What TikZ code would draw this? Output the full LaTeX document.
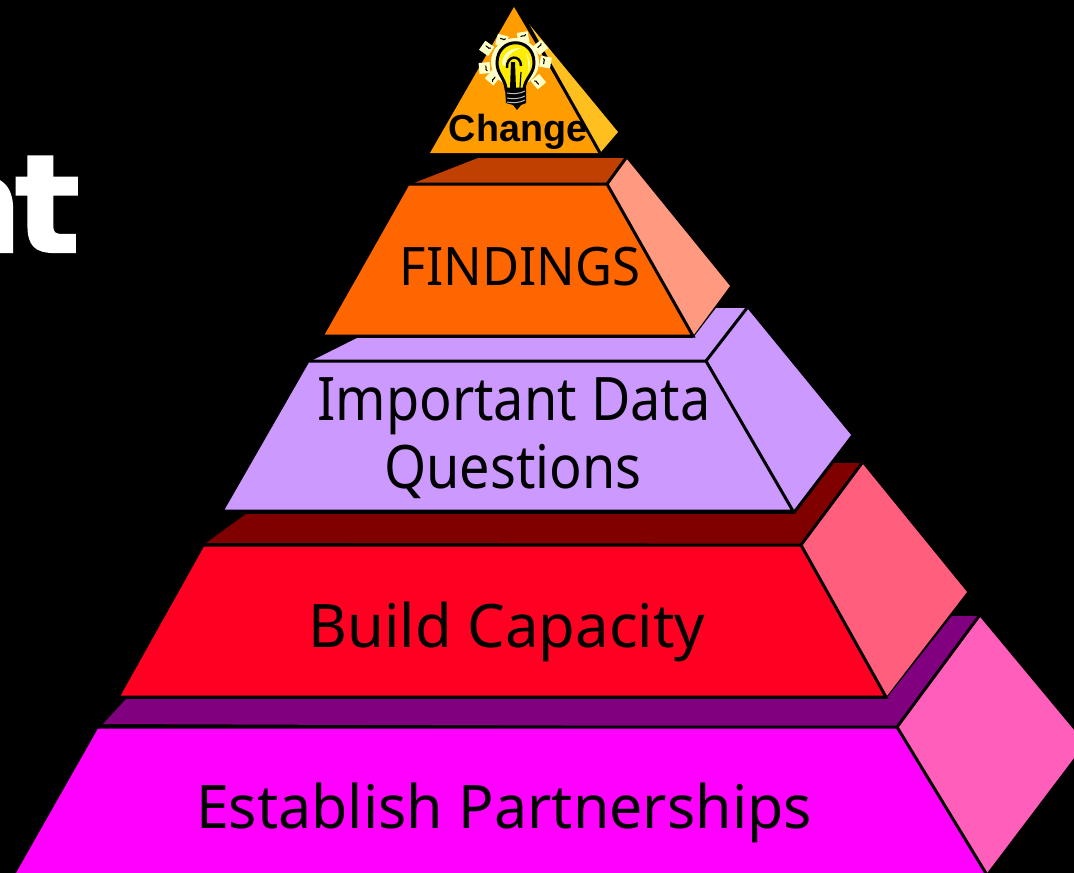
\documentclass[tikz,border=0pt]{standalone}
\usepackage{fontspec}
\setmainfont{Noto Sans}
\newfontfamily\arialb{Liberation Sans}
\newfontfamily\heavy{DejaVu Sans Bold}[FakeBold=1.6]
\begin{document}
\begin{tikzpicture}[x=1pt,y=-1pt,
  face/.style={draw=black,line width=3pt,line join=miter},
  edge/.style={draw=black,line width=3pt},
  lab/.style={anchor=base,inner sep=0pt,font=\fontsize{60}{60}\selectfont,text=black,transform shape},
  tab/.style={fill=bulbcream,draw=none},
  tick/.style={draw=black,line width=1.1pt,line cap=round}
]
\definecolor{bulbcream}{HTML}{FFFFC8}
\definecolor{pkside}{HTML}{FF5FBB}
\definecolor{pktop}{HTML}{800080}
\definecolor{pkfront}{HTML}{FF00FF}
\definecolor{rdside}{HTML}{FF5F7C}
\definecolor{rdtop}{HTML}{800000}
\definecolor{rdfront}{HTML}{FF0022}
\definecolor{lav}{HTML}{CC99FF}
\definecolor{orside}{HTML}{FF9980}
\definecolor{ortop}{HTML}{BF4000}
\definecolor{orfront}{HTML}{FF6600}
\definecolor{goside}{HTML}{FFBF1F}
\definecolor{gofront}{HTML}{FF9D00}
\path[use as bounding box,fill=black] (0,0) rectangle (1074,873);
\clip (0,0) rectangle (1074,873);
% title fragment
\node[anchor=base east,inner sep=0pt,text=white,font=\heavy\fontsize{136}{136}\selectfont] (title) at (80,252) {a\kern-8pt t};
% bottom layer
\fill[pktop] (103,724) -- (126,699) -- (886,699) -- (952,616) -- (978,616) -- (897,727) -- cycle;
\fill[pkside] (897,727) -- (980,617) -- (1074,730) -- (1074,758) -- (987,873) -- cycle;
\draw[edge] (897,727) -- (979,616);
\draw[face,fill=pkfront] (97,727) -- (897,727) -- (987,875) -- (13,875) -- cycle;
% capacity
\fill[rdtop] (206,543) -- (246,514) -- (795,514) -- (834,463) -- (861,463) -- (801,544) -- cycle;
\fill[rdside] (801,545) -- (862,463) -- (967,592) -- (886,697) -- cycle;
\draw[edge] (801,545) -- (862,463);
\draw[face,fill=rdfront] (203,545) -- (801,545) -- (886,697) -- (118,697) -- cycle;
% data questions
\fill[lav] (313,360) -- (357,338) -- (693,338) -- (716,308) -- (746,308) -- (706,361) -- cycle;
\fill[lav] (706,361) -- (747,308) -- (851,435) -- (793,511) -- cycle;
\draw[edge,fill=lav] (308,361) -- (706,361) -- (793,511) -- (222,511) -- cycle;
\draw[edge] (706,361) -- (747,308);
% findings
\fill[ortop] (414,183) -- (478,158) -- (626,158) -- (607,184) -- cycle;
\fill[orside] (607,184) -- (626,158) -- (730,286) -- (693,336) -- cycle;
\draw[edge] (607,184) -- (626,158);
\draw[face,fill=orfront] (408,184) -- (607,184) -- (693,336) -- (322,336) -- cycle;
% change
\fill[goside] (524,18) -- (618,132) -- (600,153) -- cycle;
\fill[gofront] (514,7) -- (600,153) -- (430,153) -- cycle;
\draw[edge] (524,18) -- (600,153);
% labels
\node[lab,xscale=.984] (l1) at (504,828) {Establish Partnerships};
\node[lab,xscale=.995] (l2) at (507,647) {Build Capacity};
\node[lab,xscale=.90] (l3) at (514,420) {Important Data};
\node[lab,xscale=.90] (l4) at (513,488) {Questions};
\node[lab,xscale=.96,font=\fontsize{53}{53}\selectfont] (l5) at (520,285) {FINDINGS};
% bulb rays
\fill[bulbcream] (515,62) circle (24);
\foreach \a/\b/\r in {487/48/-35,502/40/-15,523/37/10,540/47/40,545/62/80,538/82/130,493/78/-130,485/68/-85}{
  \begin{scope}[shift={(\a,\b)},rotate=\r]
    \fill[tab] (-5.5,-5) -- (5.5,-5) -- (5.5,6) -- (-5.5,6) -- cycle;
    \draw[tick] (-2,-1) .. controls (0,-3) and (1,1) .. (3,-2);
  \end{scope}
}
% bulb glass
\draw[black,line width=3pt,fill=yellow!95!orange] (506,89) .. controls (505,78) and (497,74) .. (497,63)
  .. controls (497,36) and (534,36) .. (534,63) .. controls (534,74) and (525,78) .. (524,89) -- cycle;
\fill[bulbcream] (502,65) .. controls (502,53) and (511,48) .. (521,48) .. controls (512,51) and (506,56) .. (505,66) -- cycle;
\fill[bulbcream] (526,53) .. controls (530,58) and (531,66) .. (528,72) .. controls (529,66) and (528,58) .. (526,53) -- cycle;
\draw[black,line width=2.4pt] (507,68) .. controls (506,55) and (521,54) .. (521,66);
\fill[black] (511,62) -- (515,62) -- (516,89) -- (510,89) -- cycle;
\draw[black,line width=1.2pt] (520,88) -- (521,72);
% screw
\fill[black] (505,88) -- (526,88) -- (526,103) -- (521,105) -- (517,110) -- (513,105) -- (506,103) -- cycle;
\foreach \y in {93,98,102}{\draw[white!75!black,line width=1pt] (507,\y) .. controls (512,\y+1) and (520,\y+1) .. (525,\y-2);}
\node[anchor=base,inner sep=0pt,font=\arialb\bfseries\fontsize{37.7}{37.7}\selectfont,text=black] (l6) at (518,141) {Change};
\end{tikzpicture}
\end{document}
